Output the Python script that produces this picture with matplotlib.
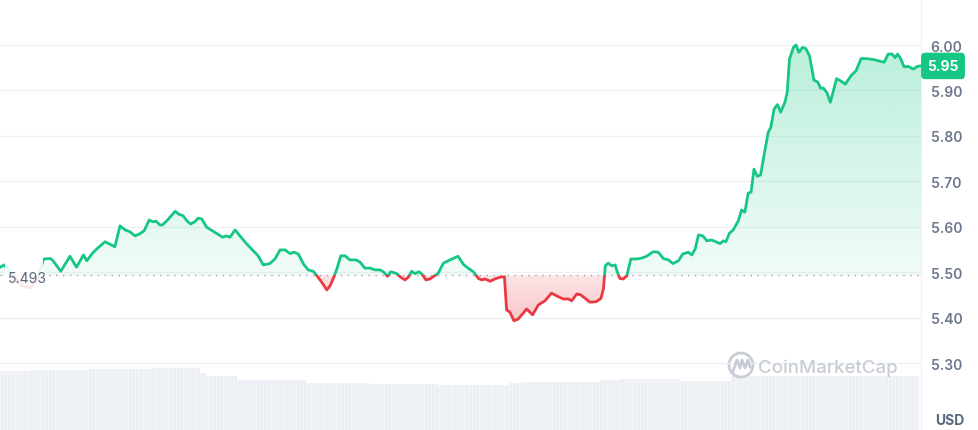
import numpy as np
import matplotlib.pyplot as plt
from matplotlib.patches import Rectangle, Circle
from matplotlib.transforms import IdentityTransform, blended_transform_factory

plt.rcParams['font.family'] = ['Inter', 'DejaVu Sans']

# 24h price, hours since window start (negative = before window)
hours = [-1.20, -1.09, -0.88, -0.60, -0.38, -0.16, -0.03,
         0.00, 0.18, 0.25, 0.46, 0.71, 0.89, 1.08, 1.17, 1.31, 1.44, 1.67, 1.94,
         2.08, 2.22, 2.35, 2.49, 2.61, 2.74, 2.88, 2.97, 3.07, 3.17, 3.24, 3.36,
         3.59, 3.68, 3.81, 3.91, 4.01, 4.13, 4.22, 4.32, 4.45, 4.63, 4.89, 4.98,
         5.09, 5.23, 5.36, 5.55, 5.73, 5.86, 6.00, 6.18, 6.32, 6.46, 6.60, 6.73,
         6.84, 6.96, 7.10, 7.23, 7.37, 7.48, 7.60, 7.74, 7.83, 7.94, 8.03, 8.12,
         8.24, 8.37, 8.54, 8.65, 8.78, 8.92, 9.06, 9.20, 9.30, 9.40, 9.49, 9.65,
         9.76, 9.88, 9.97, 10.06, 10.15, 10.27, 10.36, 10.45, 10.56, 10.67, 10.79,
         10.93, 11.06, 11.19, 11.33, 11.48, 11.62, 11.75, 11.89, 11.98, 12.07,
         12.21, 12.34, 12.48, 12.60, 12.66, 12.75, 12.86, 12.98, 13.21, 13.37,
         13.53, 13.71, 13.89, 14.05, 14.21, 14.35, 14.44, 14.58, 14.69, 14.94,
         15.11, 15.24, 15.31, 15.36, 15.44, 15.54, 15.63, 15.69, 15.76, 15.85,
         15.95, 16.06, 16.22, 16.36, 16.49, 16.67, 16.81, 16.95, 17.09, 17.21,
         17.36, 17.48, 17.63, 17.73, 17.82, 17.91, 18.03, 18.14, 18.27, 18.41,
         18.50, 18.59, 18.66, 18.76, 18.86, 19.00, 19.09, 19.18, 19.27, 19.35,
         19.43, 19.52, 19.61, 19.70, 19.82, 19.89, 19.98, 20.07, 20.16, 20.28,
         20.34, 20.40, 20.51, 20.58, 20.66, 20.76, 20.85, 20.95, 21.07, 21.18,
         21.25, 21.33, 21.42, 21.52, 21.69, 21.80, 21.93, 22.09, 22.22, 22.36,
         22.52, 22.70, 22.99, 23.10, 23.21, 23.29, 23.36, 23.43, 23.54, 23.65,
         23.79, 23.90, 24.00]
price = [5.511, 5.516, 5.496, 5.470, 5.465, 5.485, 5.525,
         5.529, 5.530, 5.525, 5.502, 5.535, 5.511, 5.538, 5.525, 5.540, 5.551, 5.567, 5.556,
         5.602, 5.593, 5.589, 5.580, 5.584, 5.591, 5.615, 5.611, 5.612, 5.604, 5.604, 5.613,
         5.634, 5.628, 5.624, 5.613, 5.606, 5.611, 5.619, 5.617, 5.599, 5.590, 5.577, 5.580,
         5.577, 5.593, 5.580, 5.562, 5.547, 5.536, 5.516, 5.519, 5.529, 5.549, 5.549, 5.541,
         5.544, 5.540, 5.518, 5.505, 5.502, 5.491, 5.478, 5.461, 5.470, 5.491, 5.511, 5.536,
         5.536, 5.527, 5.527, 5.522, 5.509, 5.509, 5.505, 5.505, 5.500, 5.491, 5.501, 5.497,
         5.489, 5.483, 5.489, 5.502, 5.497, 5.501, 5.494, 5.483, 5.485, 5.491, 5.498,
         5.520, 5.525, 5.530, 5.535, 5.517, 5.508, 5.501, 5.486, 5.483, 5.485,
         5.480, 5.485, 5.489, 5.490, 5.417, 5.412, 5.393, 5.397, 5.419, 5.406,
         5.428, 5.437, 5.454, 5.447, 5.441, 5.441, 5.437, 5.452, 5.450, 5.434,
         5.435, 5.442, 5.463, 5.514, 5.520, 5.514, 5.516, 5.500, 5.486, 5.485,
         5.492, 5.529, 5.529, 5.531, 5.535, 5.545, 5.544, 5.530, 5.527, 5.519,
         5.525, 5.540, 5.544, 5.538, 5.551, 5.582, 5.580, 5.569, 5.571, 5.566,
         5.563, 5.569, 5.567, 5.586, 5.593, 5.613, 5.637, 5.632, 5.674, 5.676,
         5.727, 5.711, 5.714, 5.756, 5.808, 5.819, 5.859, 5.869, 5.852, 5.875,
         5.897, 5.969, 5.995, 6.000, 5.984, 5.995, 5.992, 5.976, 5.923, 5.918,
         5.905, 5.905, 5.896, 5.874, 5.926, 5.921, 5.914, 5.933, 5.943, 5.970,
         5.970, 5.968, 5.962, 5.980, 5.980, 5.972, 5.980, 5.972, 5.952, 5.953,
         5.947, 5.953, 5.954]

open_price = 5.493
last_label = "5.95"
price_ticks = [5.30, 5.40, 5.50, 5.60, 5.70, 5.80, 5.90, 6.00]

# volume (arbitrary units), piecewise over the window
vol_start = [-1.20, -0.36, 1.20, 2.90, 4.27, 4.43, 5.28, 7.17, 8.89, 10.76, 12.73, 13.16, 15.22, 15.74, 17.43, 18.80]
vol_end = [-0.36, 1.20, 2.90, 4.27, 4.43, 5.28, 7.17, 8.89, 10.76, 12.73, 13.16, 15.22, 15.74, 17.43, 18.80, 23.95]
vol_level = [5.9, 6.0, 6.14, 6.2, 5.7, 5.4, 5.0, 4.75, 4.6, 4.5, 4.7, 4.85, 5.0, 5.1, 4.95, 5.4]

green = '#16c784'
red = '#ea3943'
xlim = (-1.204, 24.0)
ylim = (5.1526, 6.1013)

fig = plt.figure(figsize=(9.79, 4.31), dpi=100)
pw = 921 / 979

vax = fig.add_axes([0, 0, pw, 1], zorder=0)
vax.bar(vol_start, vol_level, width=np.subtract(vol_end, vol_start), align='edge',
        color='#eceff3', lw=0)
vax.vlines(np.arange(-1.2, 24.0, 0.1), 0, 7, color='white', lw=0.5, alpha=0.6)
vax.set_xlim(xlim)
vax.set_ylim(0, 43.1)
vax.set_axis_off()

ax = fig.add_axes([0, 0, pw, 1], zorder=1)
ax.patch.set_visible(False)
ax.set_xlim(xlim)
ax.set_ylim(ylim)

for lv in price_ticks:
    ax.axhline(lv, color='#eff2f5', lw=1, zorder=0)

# gradient fills clipped to the area between line and open price
poly = ax.fill_between(hours, price, open_price, facecolor='none', edgecolor='none')
clip = poly.get_paths()[0]

n = 256
g = np.zeros((n, 1, 4))
g[..., :3] = np.array([22, 199, 132]) / 255
g[:, 0, 3] = np.linspace(0.30, 0.06, n)
im = ax.imshow(g, extent=[hours[0], hours[-1], open_price, 6.01], aspect='auto',
               origin='upper', zorder=1, interpolation='bilinear')
im.set_clip_path(clip, ax.transData)

r = np.zeros((n, 1, 4))
r[..., :3] = np.array([234, 57, 67]) / 255
r[:, 0, 3] = np.linspace(0.14, 0.30, n)
im2 = ax.imshow(r, extent=[hours[0], hours[-1], 5.38, open_price], aspect='auto',
                origin='upper', zorder=1, interpolation='bilinear')
im2.set_clip_path(clip, ax.transData)

ax.axhline(open_price, color='#9aa3b1', lw=1, ls=(0, (1, 4)), zorder=2)

up, = ax.plot(hours, price, color=green, lw=2, zorder=3, solid_joinstyle='round')
up.set_clip_path(Rectangle((-5, open_price), 40, 2, transform=ax.transData))
dn, = ax.plot(hours, price, color=red, lw=2, zorder=3, solid_joinstyle='round')
dn.set_clip_path(Rectangle((-5, open_price - 2), 40, 2, transform=ax.transData))

# faded strip behind the open-price label
bt = blended_transform_factory(ax.transAxes, ax.transData)
ax.add_patch(Rectangle((5 / 921, 5.44), 38 / 921, 0.115, transform=bt, facecolor='white',
                       edgecolor='none', alpha=0.88, zorder=4))
fig.text(8 / 979, 1 - 279 / 431, f"{open_price:.3f}", ha='left', va='center',
         fontsize=10, color='#58667e', zorder=5)

ax.yaxis.tick_right()
ax.set_yticks(price_ticks)
ax.set_yticklabels([f"{v:.2f}" for v in price_ticks], fontweight='semibold')
ax.tick_params(axis='y', length=0, pad=7, labelsize=10, labelcolor='#6b778c')
ax.set_xticks([])
for s in ['top', 'left', 'bottom']:
    ax.spines[s].set_visible(False)
ax.spines['right'].set_color('#eff2f5')

# current price tag
tr = blended_transform_factory(fig.transFigure, ax.transData)
ax.text(943 / 979, price[-1], last_label, transform=tr, ha='center', va='center',
        fontsize=10, fontweight='bold', color='white', zorder=6, clip_on=False,
        bbox=dict(boxstyle='round,pad=0.45,rounding_size=0.3', facecolor=green,
                  edgecolor='none'))

fig.text(950 / 979, 1 - 421 / 431, 'USD', ha='center', va='center', fontsize=10,
         fontweight='bold', color='#58667e')

# watermark
wm = '#c8cdd5'
fig.add_artist(Circle((741, 431 - 366), 12, transform=IdentityTransform(),
                      facecolor='none', edgecolor=wm, lw=2))
mx = np.array([733, 737, 740, 742, 745, 748, 750])
my = 431 - np.array([372, 361, 369, 361, 369, 361, 368])
fig.add_artist(plt.Line2D(mx, my, transform=IdentityTransform(), color=wm, lw=2,
                          solid_joinstyle='round'))
fig.text(758 / 979, 1 - 368 / 431, 'CoinMarketCap', ha='left', va='center',
         fontsize=13.5, color=wm, fontweight='medium')

fig.savefig('out.png', dpi=100)
